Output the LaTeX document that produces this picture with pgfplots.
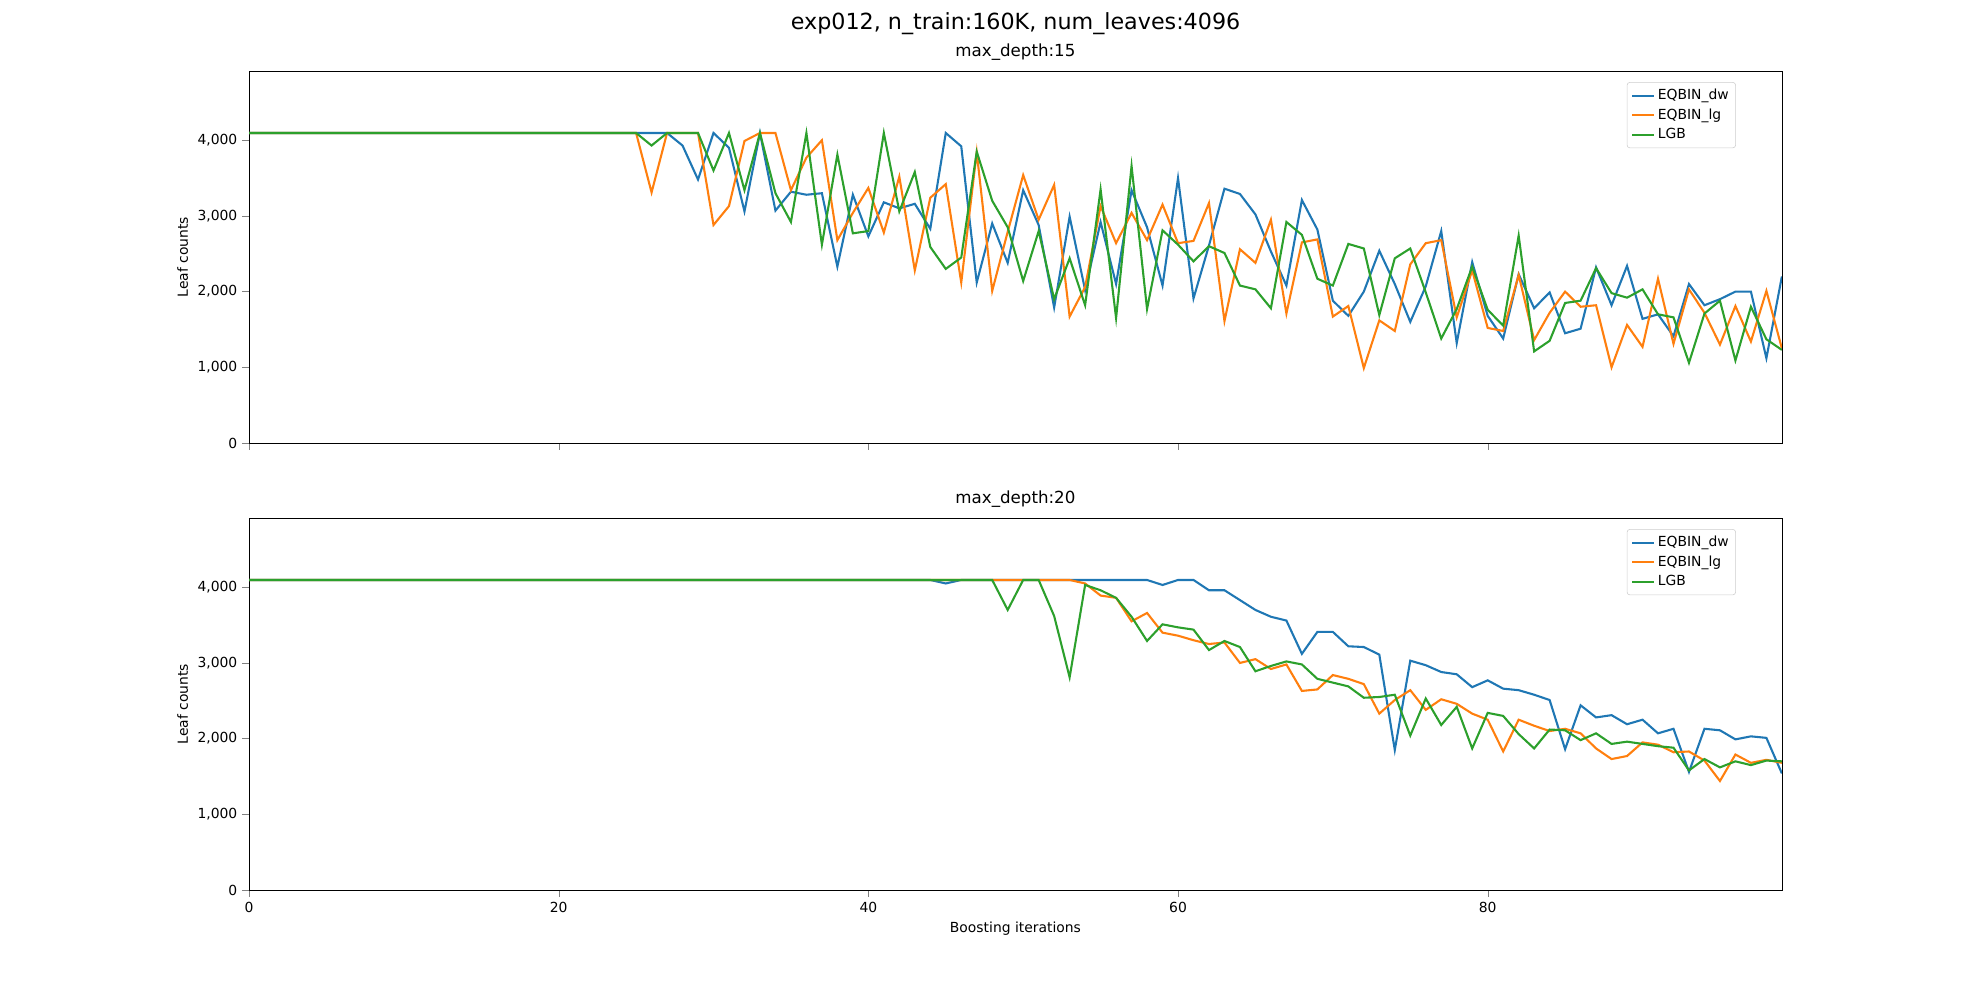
\documentclass[border=0pt]{standalone}
\usepackage{pgfplots}
\pgfplotsset{compat=1.18}
\usepackage{pgfplotstable}
\usepackage{fontspec}
\setmainfont{DejaVu Sans}
\definecolor{tb}{HTML}{1F77B4}
\definecolor{to}{HTML}{FF7F0E}
\definecolor{tg}{HTML}{2CA02C}
\pgfplotstableread{
x dw lg lgb
0 4096 4096 4096
25 4096 4096 4096
26 4096 3310 3930
27 4096 4096 4096
28 3930 4096 4096
29 3480 4096 4096
30 4096 2880 3600
31 3900 3130 4096
32 3060 3990 3340
33 4096 4096 4096
34 3070 4096 3300
35 3320 3340 2920
36 3280 3770 4096
37 3300 4000 2620
38 2330 2680 3810
39 3280 3040 2770
40 2730 3370 2800
41 3180 2780 4096
42 3100 3520 3060
43 3160 2280 3580
44 2830 3240 2590
45 4096 3420 2300
46 3920 2120 2450
47 2120 3840 3850
48 2900 2010 3200
49 2380 2790 2850
50 3340 3540 2140
51 2880 2950 2800
52 1790 3410 1900
53 2990 1670 2440
54 2020 2060 1820
55 2920 3130 3350
56 2100 2640 1650
57 3340 3040 3660
58 2850 2680 1770
59 2080 3150 2810
60 3500 2640 2620
61 1910 2670 2400
62 2610 3170 2600
63 3360 1610 2510
64 3290 2560 2080
65 3020 2380 2030
66 2530 2950 1780
67 2080 1710 2920
68 3210 2650 2750
69 2820 2690 2170
70 1880 1670 2080
71 1680 1810 2630
72 2000 990 2570
73 2540 1620 1690
74 2100 1480 2440
75 1600 2360 2570
76 2070 2640 1990
77 2800 2680 1380
78 1320 1660 1770
79 2390 2280 2330
80 1680 1520 1760
81 1380 1480 1550
82 2230 2220 2740
83 1780 1360 1210
84 1990 1720 1350
85 1450 2000 1850
86 1510 1800 1880
87 2320 1820 2310
88 1820 1000 1980
89 2340 1560 1920
90 1640 1270 2030
91 1700 2170 1700
92 1410 1310 1660
93 2100 2030 1060
94 1820 1720 1710
95 1900 1300 1880
96 2000 1810 1090
97 2000 1340 1800
98 1120 2010 1370
99 2200 1250 1230
}\top
\pgfplotstableread{
x dw lg lgb
0 4096 4096 4096
44 4096 4096 4096
45 4050 4096 4096
46 4096 4096 4096
47 4096 4096 4096
48 4096 4096 4096
49 4096 4096 3700
50 4096 4096 4096
51 4096 4096 4096
52 4096 4096 3620
53 4096 4096 2810
54 4096 4050 4030
55 4096 3890 3960
56 4096 3860 3860
57 4096 3550 3610
58 4096 3660 3290
59 4030 3400 3510
60 4096 3360 3470
61 4096 3300 3440
62 3960 3250 3170
63 3960 3270 3290
64 3830 3000 3210
65 3700 3050 2890
66 3610 2920 2960
67 3560 2980 3020
68 3120 2630 2980
69 3410 2650 2790
70 3410 2840 2740
71 3220 2790 2690
72 3210 2720 2540
73 3110 2330 2550
74 1850 2510 2580
75 3030 2640 2040
76 2970 2380 2530
77 2880 2520 2180
78 2850 2460 2420
79 2680 2330 1870
80 2770 2250 2340
81 2660 1830 2300
82 2640 2250 2060
83 2580 2170 1870
84 2510 2100 2120
85 1860 2130 2110
86 2440 2070 1980
87 2280 1870 2070
88 2310 1730 1930
89 2190 1770 1960
90 2250 1950 1930
91 2070 1920 1900
92 2130 1820 1880
93 1560 1830 1580
94 2130 1710 1730
95 2110 1440 1620
96 1990 1790 1700
97 2030 1680 1650
98 2010 1720 1710
99 1540 1680 1700
}\bot
\pgfplotsset{
  every axis/.style={},
  myax/.style={
    scale only axis, width=1103.76pt, height=267.84pt,
    anchor=south west,
    xmin=0, xmax=99, ymin=0, ymax=4915,
    ytick={0,1000,2000,3000,4000},
    xtick={0,20,40,60,80},
    tick align=outside, tick pos=left,
    major tick length=4.9pt,
    tick label style={font=\fontsize{10}{12}\selectfont},
    /pgf/number format/assume math mode=true,
    scaled y ticks=false,
    ylabel={Leaf counts},
    ylabel style={font=\fontsize{10}{12}\selectfont},
    title style={font=\fontsize{12}{14}\selectfont, yshift=-2pt},
    legend pos=north east,
    legend cell align=left,
    legend style={font=\fontsize{10}{12}\selectfont, draw=black!20, rounded corners=2pt, inner sep=3pt, row sep=1pt},
    legend image code/.code={\draw[#1, line width=1.5pt] (0cm,0cm) -- (0.55cm,0cm);},
    every axis plot/.append style={line width=1.5pt, no markers},
  }
}
\begin{document}
\begin{tikzpicture}[x=1pt,y=1pt]
\path (0,0) rectangle (1425.6,720);
\node[font=\fontsize{16}{19}\selectfont] at (731.2,703) {exp012, n\_train:160K, num\_leaves:4096};
\begin{axis}[myax, at={(179.28pt,401.04pt)}, title={max\_depth:15}, xticklabels={}]
\addplot[tb] table[x=x,y=dw]{\top};
\addplot[to] table[x=x,y=lg]{\top};
\addplot[tg] table[x=x,y=lgb]{\top};
\legend{EQBIN\_dw,EQBIN\_lg,LGB}
\end{axis}
\begin{axis}[myax, at={(179.28pt,79.2pt)}, title={max\_depth:20}, xlabel={Boosting iterations}, xlabel style={font=\fontsize{10}{12}\selectfont}]
\addplot[tb] table[x=x,y=dw]{\bot};
\addplot[to] table[x=x,y=lg]{\bot};
\addplot[tg] table[x=x,y=lgb]{\bot};
\legend{EQBIN\_dw,EQBIN\_lg,LGB}
\end{axis}
\end{tikzpicture}
\end{document}
